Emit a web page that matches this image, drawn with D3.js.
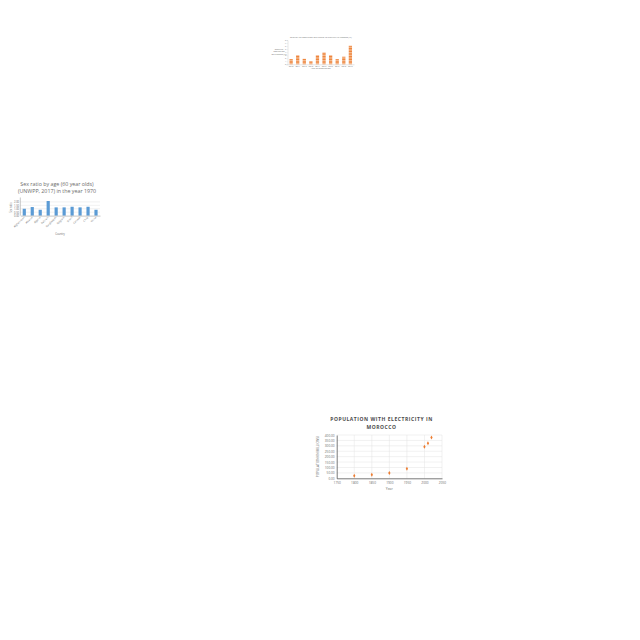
<!DOCTYPE html>
<html><head><meta charset="utf-8">
<script src="https://cdn.jsdelivr.net/npm/d3@7"></script>
<style>body{margin:0;background:#fff}svg{display:block}text{font-family:"Open Sans",sans-serif}</style>
</head><body>
<svg id="c" width="640" height="640"></svg>
<script>
// ---- Chart A (top, orange striped bars)
const aCategories = ["2010","2011","2012","2013","2014","2015","2016","2017","2018","2019"];
const aValues = [1.7, 3.0, 1.8, 1.0, 3.0, 3.9, 3.0, 1.7, 2.5, 6.1];
const aTicks = [0,1,2,3,4,5,6,7,8];
// ---- Chart B (sex ratio, blue bars)
const bCountries = ["Afghanistan","Albania","Algeria","Bahrain","Bangladesh","Belgium","Brazil","Canada","Chile","China"];
const bValues = [1.00, 1.25, 0.85, 2.13, 1.20, 1.20, 1.29, 1.20, 1.29, 0.85];
const bTicks = [0, 0.5, 1.0, 1.5, 2.0];
// ---- Chart C (scatter)
const cYears = [1800, 1850, 1900, 1950, 2000, 2010, 2020];
const cValues = [24, 33, 49, 89, 292, 324, 376];
const cXTicks = [1750, 1800, 1850, 1900, 1950, 2000, 2050];
const cYTicks = [0, 50, 100, 150, 200, 250, 300, 350, 400];

const svg = d3.select("#c");
svg.append("rect").attr("width",640).attr("height",640).attr("fill","#fff");
const grid = "#e3e3e3", txt = "#6b6b6b";

// pattern for striped orange bars
const defs = svg.append("defs");
const pat = defs.append("pattern").attr("id","stripe").attr("patternUnits","userSpaceOnUse").attr("width",4).attr("height",1.6);
pat.append("rect").attr("width",4).attr("height",1.6).attr("fill","#ED7D31");
pat.append("rect").attr("y",1.05).attr("width",4).attr("height",0.55).attr("fill","#fbe0cc");

// ===== Chart A =====
{
  const L=287.5, R=354, T=40, B=64.3;
  const g = svg.append("g");
  const x = d3.scaleBand().domain(aCategories).range([L,R]).paddingInner(0.5).paddingOuter(0.3);
  const y = d3.scaleLinear().domain([0,8]).range([B,T]);
  g.append("text").attr("x",(L+R)/2).attr("y",37.8).attr("text-anchor","middle").attr("font-size",2.1).attr("fill",txt)
    .text("Share of the population with access to electricity in Morocco (%)");
  const ya = g.append("g").attr("transform",`translate(${L},0)`).call(d3.axisLeft(y).tickValues(aTicks).tickSize(1).tickPadding(0.6));
  ya.selectAll("text").attr("font-size",1.8).attr("fill",txt);
  ya.select(".domain").attr("stroke","#bfbfbf").attr("stroke-width",0.4);
  ya.selectAll(".tick line").attr("stroke","#bfbfbf").attr("stroke-width",0.3);
  g.selectAll("rect.a").data(aValues).join("rect").attr("class","a")
    .attr("x",(d,i)=>x(aCategories[i])).attr("width",x.bandwidth())
    .attr("y",d=>y(d)).attr("height",d=>B-y(d)).attr("fill","url(#stripe)");
  const xa = g.append("g").attr("transform",`translate(0,${B})`).call(d3.axisBottom(x).tickSize(0).tickPadding(1.6));
  xa.select(".domain").attr("stroke","#bfbfbf").attr("stroke-width",0.4);
  xa.selectAll("text").attr("font-size",2).attr("fill",txt);
  g.append("text").attr("x",(L+R)/2).attr("y",69.3).attr("text-anchor","middle").attr("font-size",2.2).attr("fill",txt).text("Year of observation");
  const lab = ["Share of","population","with access (%)"];
  lab.forEach((s,i)=>g.append("text").attr("x",279).attr("y",49.5+i*2.6).attr("text-anchor","middle").attr("font-size",2.2).attr("fill",txt).text(s));
}

// ===== Chart B =====
{
  const L=20.3, R=100, T=199.5, B=215.6;
  const g = svg.append("g");
  const x = d3.scaleBand().domain(bCountries).range([L,R]).paddingInner(0.6).paddingOuter(0.3);
  const y = d3.scaleLinear().domain([0,2.35]).range([B,T]);
  g.append("text").attr("x",57).attr("y",185.5).attr("text-anchor","middle").attr("font-size",5.3).attr("fill",txt).text("Sex ratio by age (60 year olds)");
  g.append("text").attr("x",57).attr("y",192.6).attr("text-anchor","middle").attr("font-size",5.3).attr("fill",txt).text("(UNWPP, 2017) in the year 1970");
  g.selectAll("line.gr").data(bTicks.slice(1)).join("line").attr("class","gr")
    .attr("x1",L).attr("x2",R).attr("y1",d=>y(d)).attr("y2",d=>y(d)).attr("stroke",grid).attr("stroke-width",0.5);
  const ya = g.append("g").attr("transform",`translate(${L},0)`).call(d3.axisLeft(y).tickValues(bTicks).tickFormat(d3.format(".2f")).tickSize(0).tickPadding(1.2));
  ya.select(".domain").remove();
  ya.selectAll("text").attr("font-size",2.6).attr("fill",txt);
  g.append("line").attr("x1",L).attr("x2",L).attr("y1",T-2).attr("y2",B).attr("stroke","#8c8c8c").attr("stroke-width",0.5);
  g.selectAll("rect.b").data(bValues).join("rect").attr("class","b")
    .attr("x",(d,i)=>x(bCountries[i])).attr("width",x.bandwidth())
    .attr("y",d=>y(d)).attr("height",d=>B-y(d)).attr("fill","#5B9BD5");
  const xa = g.append("g").attr("transform",`translate(0,${B})`).call(d3.axisBottom(x).tickSize(0).tickPadding(0));
  xa.select(".domain").attr("stroke","#8c8c8c").attr("stroke-width",0.5);
  xa.selectAll("text").attr("font-size",2.6).attr("fill",txt).attr("text-anchor","end")
    .attr("transform","translate(0,1.5) rotate(-45)").attr("dy","0.3em");
  g.append("text").attr("x",60).attr("y",235).attr("text-anchor","middle").attr("font-size",2.6).attr("fill",txt).text("Country");
  g.append("text").attr("transform",`translate(12,${(T+B)/2}) rotate(-90)`).attr("text-anchor","middle").attr("font-size",2.6).attr("fill",txt).text("Sex ratio");
}

// ===== Chart C =====
{
  const L=336.7, R=442, T=435, B=478.3;
  const g = svg.append("g");
  const x = d3.scaleLinear().domain([1750,2050]).range([L,R]);
  const y = d3.scaleLinear().domain([0,400]).range([B,T]);
  g.append("text").attr("x",381.5).attr("y",421).attr("text-anchor","middle").attr("font-size",5).attr("font-weight","bold").attr("letter-spacing",0.55).attr("fill","#4a4a4a").text("POPULATION WITH ELECTRICITY IN");
  g.append("text").attr("x",381.5).attr("y",428.6).attr("text-anchor","middle").attr("font-size",5).attr("font-weight","bold").attr("letter-spacing",0.55).attr("fill","#4a4a4a").text("MOROCCO");
  g.selectAll("line.gy").data(cYTicks.slice(1)).join("line").attr("class","gy")
    .attr("x1",L).attr("x2",R).attr("y1",d=>y(d)).attr("y2",d=>y(d)).attr("stroke",grid).attr("stroke-width",0.5);
  g.selectAll("line.gx").data(cXTicks.slice(1)).join("line").attr("class","gx")
    .attr("x1",d=>x(d)).attr("x2",d=>x(d)).attr("y1",T).attr("y2",B).attr("stroke",grid).attr("stroke-width",0.5);
  const ya = g.append("g").attr("transform",`translate(${L},0)`).call(d3.axisLeft(y).tickValues(cYTicks).tickFormat(d3.format(".2f")).tickSize(0).tickPadding(2));
  ya.select(".domain").attr("stroke","#404040").attr("stroke-width",0.7);
  ya.selectAll("text").attr("font-size",3.2).attr("fill",txt);
  const xa = g.append("g").attr("transform",`translate(0,${B})`).call(d3.axisBottom(x).tickValues(cXTicks).tickFormat(d3.format("d")).tickSize(0).tickPadding(3));
  xa.select(".domain").attr("stroke","#404040").attr("stroke-width",0.7);
  xa.selectAll("text").attr("font-size",3.2).attr("fill",txt);
  g.append("text").attr("x",(L+R)/2).attr("y",490).attr("text-anchor","middle").attr("font-size",3.4).attr("fill",txt).text("Year");
  g.append("text").attr("transform",`translate(319,${(T+B)/2}) rotate(-90)`).attr("text-anchor","middle").attr("font-size",3.2).attr("fill",txt).text("POPULATION (IN MILLIONS)");
  const sym = d3.symbol().type(d3.symbolDiamond).size(4.5);
  g.selectAll("path.pt").data(cValues).join("path").attr("class","pt")
    .attr("transform",(d,i)=>`translate(${x(cYears[i])},${y(d)})`).attr("d",sym).attr("fill","#ED7D31");
}
</script>
</body></html>
